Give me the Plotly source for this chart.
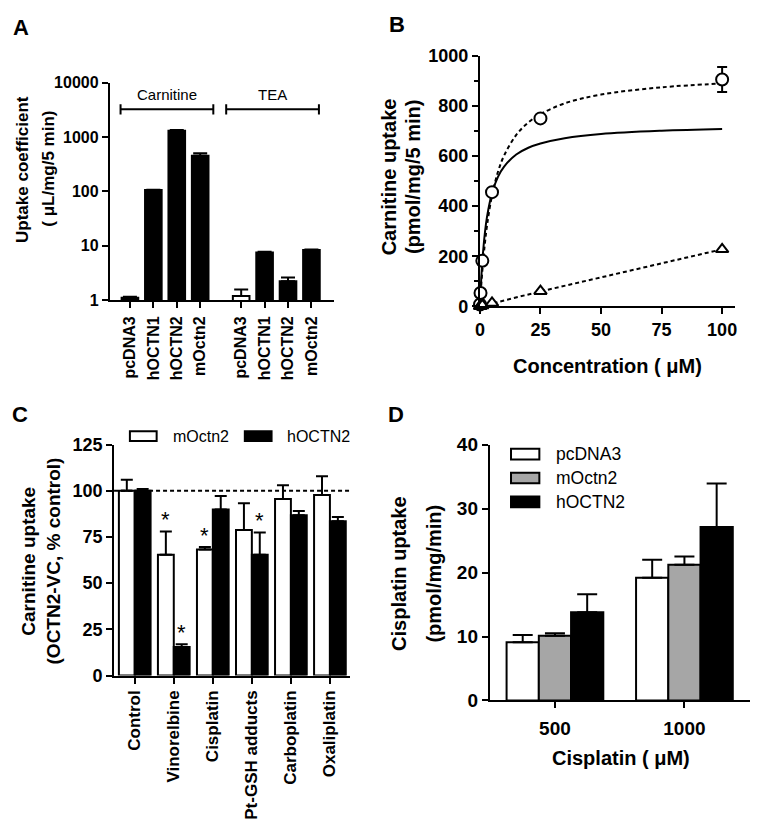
import plotly.graph_objects as go

# The page body has a default 8px margin, so the figure is drawn 8px smaller
# and every reference pixel position is shifted by that margin.
PAGE_MARGIN = 8
W, H = 759 - PAGE_MARGIN, 834 - PAGE_MARGIN
FONT = "Liberation Sans, Arial, sans-serif"

# ---------------- Panel A data ----------------
a_groups = ["Carnitine", "TEA"]
a_labels = ["pcDNA3", "hOCTN1", "hOCTN2", "mOctn2"]
a_carnitine = [1.1, 105, 1300, 450]
a_carnitine_err = [1.15, 107, 1340, 500]
a_tea = [1.18, 7.5, 2.2, 8.3]
a_tea_err = [1.55, 7.7, 2.6, 8.5]

# ---------------- Panel B data ----------------
b_conc = [0.05, 0.25, 1, 5, 25, 100]
b_circle = [8, 54, 182, 456, 750, 905]
b_circle_err = [0, 0, 0, 0, 0, 50]
b_triangle = [0.5, 2, 4, 14, 61, 228]
b_fit_x = [0, 0.25, 0.5, 1, 2, 3, 5, 7.5, 10, 15, 20, 25, 35, 50, 75, 100]
b_fit_solid = [0, 55, 102, 179, 288, 361, 452, 518, 558, 606, 633, 650, 671, 688, 701, 708]
b_fit_dashed = [0, 40, 78, 142, 247, 327, 443, 538, 602, 684, 734, 767, 810, 845, 874, 889]
b_tri_fit_x = [0, 5, 25, 100]
b_tri_fit = [0, 12, 60, 228]

# ---------------- Panel C data ----------------
c_cats = ["Control", "Vinorelbine", "Cisplatin", "Pt-GSH adducts", "Carboplatin", "Oxaliplatin"]
c_series = ["mOctn2", "hOCTN2"]
c_mOctn2 = [100, 65.4, 68.2, 78.8, 95.5, 97.7]
c_mOctn2_err = [6, 12.5, 1.4, 14.4, 7.5, 10.1]
c_hOCTN2 = [100, 15.5, 89.8, 65.4, 86.8, 83.5]
c_hOCTN2_err = [1, 1.4, 7.4, 12.0, 2.2, 2.3]
c_sig_m = [False, True, True, False, False, False]
c_sig_h = [False, True, False, True, False, False]

# ---------------- Panel D data ----------------
d_cats = ["500", "1000"]
d_series = ["pcDNA3", "mOctn2", "hOCTN2"]
d_pcDNA3 = [9.1, 19.2]
d_pcDNA3_err = [1.15, 2.8]
d_mOctn2 = [10.1, 21.2]
d_mOctn2_err = [0.4, 1.3]
d_hOCTN2 = [13.8, 27.1]
d_hOCTN2_err = [2.8, 6.8]


def px_x(p):
    return (p - PAGE_MARGIN) / W


def px_y(p):
    return 1 - (p - PAGE_MARGIN) / H


def xd(a, b):
    return [px_x(a), px_x(b)]


def yd(top, bot):
    return [px_y(bot), px_y(top)]


axis_common = dict(showline=True, linewidth=2, linecolor="black", ticks="outside",
                   tickwidth=2, tickcolor="black", ticklen=6, showgrid=False,
                   zeroline=False, mirror=False)

fig = go.Figure()

# ---------------- Panel A ----------------
a_x, a_y, a_e, a_txt, a_col = [], [], [], [], []
for gi, (vals, errs) in enumerate([(a_carnitine, a_carnitine_err), (a_tea, a_tea_err)]):
    for i, lab in enumerate(a_labels):
        a_x.append(1 + i + gi * 4.75)
        a_y.append(vals[i])
        a_e.append(errs[i] - vals[i])
        a_txt.append(lab)
        a_col.append("white" if lab == "pcDNA3" and gi == 1 else "black")

fig.add_trace(go.Bar(x=a_x, y=a_y, width=0.71, marker=dict(color=a_col, line=dict(color="black", width=2)),
                     error_y=dict(type="data", array=a_e, arrayminus=[0] * len(a_e), symmetric=False,
                                  thickness=2, width=7, color="black"),
                     xaxis="x", yaxis="y", showlegend=False))

# ---------------- Panel B ----------------
fig.add_trace(go.Scatter(x=b_fit_x, y=b_fit_solid, mode="lines", line=dict(color="black", width=2, shape="spline"),
                         xaxis="x2", yaxis="y2", showlegend=False, cliponaxis=False))
fig.add_trace(go.Scatter(x=b_fit_x, y=b_fit_dashed, mode="lines",
                         line=dict(color="black", width=2, dash="4px,3px", shape="spline"),
                         xaxis="x2", yaxis="y2", showlegend=False, cliponaxis=False))
fig.add_trace(go.Scatter(x=b_tri_fit_x, y=b_tri_fit, mode="lines",
                         line=dict(color="black", width=2, dash="4px,3px"),
                         xaxis="x2", yaxis="y2", showlegend=False, cliponaxis=False))
fig.add_trace(go.Scatter(x=b_conc, y=b_circle, mode="markers",
                         marker=dict(symbol="circle", size=12, color="white", line=dict(width=2, color="black")),
                         error_y=dict(type="data", array=b_circle_err, thickness=2, width=5, color="black"),
                         xaxis="x2", yaxis="y2", showlegend=False, cliponaxis=False))
fig.add_trace(go.Scatter(x=b_conc, y=b_triangle, mode="markers",
                         marker=dict(symbol="triangle-up", size=11, color="white", line=dict(width=2, color="black")),
                         xaxis="x2", yaxis="y2", showlegend=False, cliponaxis=False))

# ---------------- Panel C ----------------
cw = 0.406
for vals, errs, color, off in [(c_mOctn2, c_mOctn2_err, "white", -cw), (c_hOCTN2, c_hOCTN2_err, "black", 0)]:
    fig.add_trace(go.Bar(x=c_cats, y=vals, width=cw, offset=off,
                         marker=dict(color=color, line=dict(color="black", width=2)),
                         error_y=dict(type="data", array=errs, arrayminus=[0] * len(errs), symmetric=False,
                                      thickness=2, width=6, color="black"),
                         xaxis="x3", yaxis="y3", showlegend=False))

# ---------------- Panel D ----------------
dw = 0.249
for k, (vals, errs, color) in enumerate([(d_pcDNA3, d_pcDNA3_err, "white"),
                                         (d_mOctn2, d_mOctn2_err, "#a6a6a6"),
                                         (d_hOCTN2, d_hOCTN2_err, "black")]):
    fig.add_trace(go.Bar(x=d_cats, y=vals, width=dw, offset=-1.5 * dw + k * dw,
                         marker=dict(color=color, line=dict(color="black", width=2)),
                         error_y=dict(type="data", array=errs, arrayminus=[0] * len(errs), symmetric=False,
                                      thickness=2, width=10, color="black"),
                         xaxis="x4", yaxis="y4", showlegend=False))

fig.update_layout(
    width=W, height=H, margin=dict(l=0, r=0, t=0, b=0),
    paper_bgcolor="white", plot_bgcolor="white", barmode="overlay",
    font=dict(family=FONT, color="black"),
    xaxis=dict(axis_common, domain=xd(105.7, 331.7), range=[0.14, 9.7], tickvals=a_x, ticktext=a_txt,
               tickangle=-90, tickfont=dict(size=16, weight="bold"), anchor="y", ticklabelstandoff=2),
    yaxis=dict(axis_common, domain=yd(74.3, 297.3), type="log", range=[0, 4],
               tickvals=[1, 10, 100, 1000, 10000], ticktext=["1", "10", "100", "1000", "10000"],
               tickfont=dict(size=16, weight="bold"), anchor="x"),
    xaxis2=dict(axis_common, domain=xd(479.3, 737), range=[0, 105.4], tickvals=[0, 25, 50, 75, 100],
                tickfont=dict(size=18, weight="bold"), anchor="y2"),
    yaxis2=dict(axis_common, domain=yd(46.7, 304), range=[0, 1000], dtick=200,
                tickfont=dict(size=18, weight="bold"), anchor="x2",
                minor=dict(dtick=100, ticks="outside", ticklen=4, tickwidth=2, tickcolor="black")),
    xaxis3=dict(axis_common, domain=xd(110, 348), range=[-0.53, 5.51], type="category",
                tickangle=-90, tickfont=dict(size=17, weight="bold"), anchor="y3"),
    yaxis3=dict(axis_common, domain=yd(445.7, 682.7), range=[0, 125], dtick=25,
                tickfont=dict(size=18, weight="bold"), anchor="x3"),
    xaxis4=dict(axis_common, domain=xd(489.3, 752), range=[-0.503, 1.507], type="category",
                tickfont=dict(size=19, weight="bold"), anchor="y4", ticklabelstandoff=4),
    yaxis4=dict(axis_common, domain=yd(445.7, 708.3), range=[0, 40], dtick=10,
                tickfont=dict(size=19, weight="bold"), anchor="x4"),
)

shapes = []
ann = []

# Panel A brackets
for gi, name in enumerate(a_groups):
    x0 = 0.6 + gi * 4.51
    x1 = x0 + 3.96
    yb = px_y(101.7)
    shapes.append(dict(type="line", xref="x", yref="paper", x0=x0, x1=x1, y0=yb, y1=yb,
                       line=dict(color="black", width=2)))
    for xx in (x0, x1):
        shapes.append(dict(type="line", xref="x", yref="paper", x0=xx, x1=xx,
                           y0=px_y(96.5), y1=px_y(107), line=dict(color="black", width=2)))
    ann.append(dict(x=(x0 + x1) / 2, y=px_y(87), xref="x", yref="paper", text=name, showarrow=False,
                    font=dict(size=15), xanchor="center", yanchor="middle"))

# Panel C dashed line at 100
shapes.append(dict(type="line", xref="x3 domain", yref="y3", x0=0, x1=1, y0=100, y1=100,
                   line=dict(color="black", width=2, dash="4px,3px")))

# Panel C asterisks
for i in range(len(c_cats)):
    if c_sig_m[i]:
        ann.append(dict(x=i - cw / 2, y=c_mOctn2[i] + c_mOctn2_err[i] + 9, xref="x3", yref="y3", text="*",
                        showarrow=False, font=dict(size=22), yshift=-5))
    if c_sig_h[i]:
        ann.append(dict(x=i + cw / 2, y=c_hOCTN2[i] + c_hOCTN2_err[i] + 9, xref="x3", yref="y3", text="*",
                        showarrow=False, font=dict(size=22), yshift=-5))

# Panel C legend
for k, (name, color) in enumerate(zip(c_series, ["white", "black"])):
    bx = 126 + k * 116
    shapes.append(dict(type="rect", xref="paper", yref="paper", x0=px_x(bx), x1=px_x(bx + 27),
                       y0=px_y(442), y1=px_y(432), fillcolor=color, line=dict(color="black", width=2)))
    ann.append(dict(x=px_x(bx + 41), y=px_y(437), xref="paper", yref="paper", text=name, showarrow=False,
                    font=dict(size=16), xanchor="left", yanchor="middle"))

# Panel D legend
for k, (name, color) in enumerate(zip(d_series, ["white", "#a6a6a6", "black"])):
    yc = 455.5 + k * 24.5
    shapes.append(dict(type="rect", xref="paper", yref="paper", x0=px_x(510.7), x1=px_x(539.3),
                       y0=px_y(yc + 5.5), y1=px_y(yc - 5.5), fillcolor=color, line=dict(color="black", width=2)))
    ann.append(dict(x=px_x(554), y=px_y(yc), xref="paper", yref="paper", text=name, showarrow=False,
                    font=dict(size=17.5), xanchor="left", yanchor="middle"))


def title(text, x, y, size, angle=0):
    ann.append(dict(x=px_x(x), y=px_y(y), xref="paper", yref="paper", text=text, showarrow=False,
                    textangle=angle, font=dict(size=size, weight="bold"), xanchor="center", yanchor="middle"))


title("Uptake coefficient", 17, 163, 17, -90)
title("( μL/mg/5 min)", 43, 163, 17, -90)
title("Carnitine uptake", 387, 171, 20, -90)
title("(pmol/mg/5 min)", 412, 171, 20, -90)
title("Concentration ( μM)", 608, 365, 20)
title("Carnitine uptake", 24, 565, 19, -90)
title("(OCTN2-VC, % control)", 49, 565, 19, -90)
title("Cisplatin uptake", 397, 578, 20, -90)
title("(pmol/mg/min)", 432, 578, 20, -90)
title("Cisplatin ( μM)", 622, 767, 20)

for letter, x, y in [("A", 16, 18), ("B", 396, 15), ("C", 15, 415), ("D", 395, 415)]:
    title(letter, x, y, 22)

fig.update_layout(shapes=shapes, annotations=ann)
fig.write_html("out.html")
